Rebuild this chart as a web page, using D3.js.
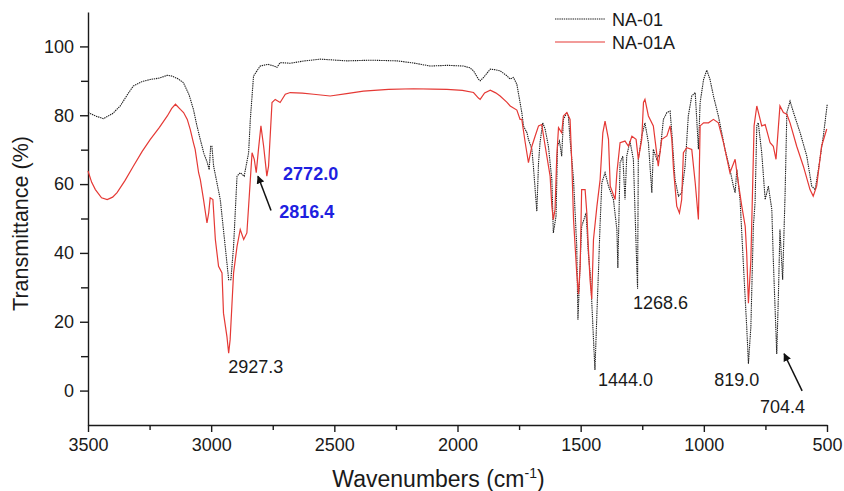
<!DOCTYPE html>
<html>
<head>
<meta charset="utf-8">
<script src="https://cdn.jsdelivr.net/npm/d3@7"></script>
<style>
    body { margin: 0; background: #fff; }
    #chart { width: 844px; height: 491px; }
    text { font-family: "Liberation Sans", Arial, Helvetica, sans-serif; fill: #1a1a1a; }
    .axis path, .axis line { stroke: #1a1a1a; stroke-width: 1.4; }
    .axis text { font-size: 18px; }
</style>
</head>
<body>
<div id="chart"></div>
<script>

// wavenumber (cm-1), transmittance (%)
const na01 = [
    [3500,80.8],[3470,79.8],[3438,79],[3400,80.5],[3369,82.7],[3340,86],[3316,88.5],[3280,89.8],[3247,90.4],
    [3210,90.8],[3178,91.6],[3160,91.4],[3135,90.6],[3113,89.5],[3090,86],[3072,81.7],[3058,77],[3044,72.9],
    [3030,69],[3016,66.3],[3008,64.2],[3002,71],[2997,71],[2990,65.2],[2983,62.7],[2963,55.5],[2943,41.9],
    [2929,32.2],[2920,32.2],[2909,41.9],[2895,62.3],[2882,63.3],[2866,62.3],[2848,69.1],[2841,78.8],[2828,91.4],
    [2801,94.3],[2770,94.8],[2745,94.3],[2733,93.9],[2720,95.3],[2680,95.1],[2620,95.8],[2557,96.3],[2449,95.8],
    [2350,96],[2246,95.8],[2180,95.2],[2111,94.3],[2040,94.5],[1976,94.3],[1950,93.8],[1935,92.9],[1915,90.5],
    [1908,90],[1895,90.9],[1867,93.4],[1845,93.2],[1827,92.9],[1800,91.5],[1786,90.5],[1773,91],[1759,89],
    [1746,83.7],[1739,80.8],[1732,76.9],[1718,74.9],[1712,73],[1698,70.1],[1692,65.2],[1678,52.1],[1671,66.2],
    [1665,72],[1654,77.8],[1644,75.9],[1631,71],[1617,61.3],[1611,45.8],[1600,50.7],[1594,71],[1586,72.5],
    [1577,68.1],[1570,78.8],[1556,80.8],[1550,79.8],[1543,73],[1529,61.3],[1516,41.9],[1511,20.6],[1502,37.1],
    [1496,47.7],[1478,51.6],[1469,40],[1459,32.2],[1448,14.8],[1442,6],[1434,22.5],[1428,34.2],[1421,48.7],
    [1414,60.4],[1401,63.3],[1387,59.4],[1367,55.5],[1353,46.8],[1349,35.6],[1340,66.2],[1329,68.1],[1320,55.5],
    [1313,68.1],[1300,72.5],[1286,67.2],[1274,40],[1269,29.6],[1266,67.2],[1252,74],[1239,77.8],[1225,72],
    [1211,57.5],[1205,70.1],[1191,67.2],[1178,69.1],[1164,78.8],[1150,80.8],[1137,81.2],[1130,74.9],[1117,61.3],
    [1103,56.5],[1090,57.5],[1076,65.2],[1063,79.8],[1049,85.6],[1035,86.6],[1022,70.1],[1015,83.7],[1001,90.4],
    [988,93.1],[975,90.4],[961,85.6],[941,79.8],[914,70.1],[894,64.2],[880,59.4],[873,57.5],[866,64.2],
    [853,55.5],[839,36.1],[826,18.6],[819,7.8],[809,18.6],[799,47.7],[792,54.6],[785,76.9],[779,77.8],
    [765,69.1],[751,55.5],[738,59.4],[724,52.6],[718,38],[704,10.6],[697,28.4],[691,46.8],[680,32.2],
    [670,57.5],[663,80.8],[650,84.1],[636,80.8],[609,74.9],[582,68.1],[562,59.4],[548,58.4],[535,64.2],
    [515,73.9],[499,83.2]
];

const na01a = [
    [3500,63.8],[3485,60.5],[3470,58.4],[3445,56],[3422,55.5],[3400,56.2],[3382,57.5],[3350,61],[3316,65.2],
    [3280,69.5],[3247,73],[3210,76.5],[3178,79.8],[3160,82],[3145,83.2],[3125,81.7],[3112,80.8],[3097,78.8],
    [3085,75.9],[3072,72],[3065,70.1],[3051,63.3],[3044,61.3],[3031,55.5],[3017,48.7],[3010,51.6],[3004,56],
    [2993,55.5],[2983,43.9],[2970,36.1],[2956,34.2],[2950,22.5],[2936,15.7],[2929,10.9],[2923,14.8],[2916,24.5],
    [2909,34.2],[2895,41.9],[2882,46.8],[2868,43.9],[2855,45.8],[2841,61.3],[2834,69.1],[2825,67.2],[2817,63.3],
    [2808,70.1],[2798,76.9],[2787,71],[2774,62.3],[2767,65.2],[2753,83.7],[2740,84.6],[2720,83.7],[2699,86.1],
    [2679,86.6],[2630,86.4],[2584,86.1],[2517,85.6],[2450,86.3],[2382,87],[2280,87.5],[2179,87.7],[2100,87.6],
    [2043,87.5],[1980,87.2],[1935,86.6],[1915,85],[1908,84.6],[1890,86.5],[1867,87.3],[1845,86.5],[1827,85.6],
    [1800,83.8],[1786,82.7],[1759,81.5],[1746,78.8],[1739,78.8],[1725,72],[1712,66.2],[1698,71],[1685,73.9],
    [1671,76.9],[1658,77.3],[1644,71],[1624,62.3],[1617,53.6],[1611,49.7],[1604,52.6],[1597,68.1],[1590,76.4],
    [1577,74.9],[1570,79.8],[1556,80.8],[1543,78.8],[1536,66.2],[1529,49.7],[1516,34.2],[1509,28],[1502,36.1],
    [1496,58.4],[1482,58.4],[1475,51.6],[1469,41.9],[1462,32.2],[1455,26.6],[1448,43.9],[1434,53.6],[1421,61.3],
    [1410,74.9],[1401,78.3],[1387,73],[1380,59.4],[1360,55.5],[1353,63.3],[1340,72],[1320,72.5],[1306,71],
    [1292,73.9],[1275,73],[1266,67.2],[1252,73],[1245,83.7],[1239,84.6],[1225,79.8],[1205,76.9],[1185,65.2],
    [1171,73],[1150,74],[1137,76.9],[1130,73],[1123,64.2],[1110,53.6],[1099,51.6],[1090,55.5],[1083,69.1],
    [1069,70.6],[1049,70.1],[1035,60.4],[1022,49.7],[1015,76.9],[1001,77.8],[981,77.8],[961,78.8],[941,77.8],
    [920,72],[894,63.3],[873,67.2],[860,60.4],[846,53.6],[832,47.7],[826,40],[819,25.4],[809,38],
    [796,76.9],[785,82.7],[765,76.9],[751,77.3],[731,72],[718,71],[707,67.2],[697,76.9],[691,82.7],
    [677,80.8],[663,80.3],[650,77.8],[623,71],[596,65.2],[569,58.4],[556,56.5],[542,59.4],[522,71],
    [501,76]
];

const seriesNames = ["NA-01", "NA-01A"];
const xTicks = [3500, 3000, 2500, 2000, 1500, 1000, 500];
const xMinorTicks = [3250, 2750, 2250, 1750, 1250, 750];
const yTicks = [0, 20, 40, 60, 80, 100];
const yMinorTicks = [10, 30, 50, 70, 90];

// peak labels: text, anchor wavenumber, anchor transmittance, blue?
const peakLabels = [
    ["2927.3", 2931, 5.0, false],
    ["2772.0", 2708, 61.3, true],
    ["2816.4", 2724, 50.2, true],
    ["1268.6", 1288, 23.7, false],
    ["1444.0", 1430, 1.2, false],
    ["819.0", 958, 1.2, false],
    ["704.4", 772, -6.4, false]
];
// arrows: [from wn, from T, to wn, to T]
const arrows = [
    [2757, 52.3, 2810, 62.3],
    [601, -0.1, 674, 10.7]
];

class SpectrumVis {

    constructor(parentElement) {
        this.parentElement = parentElement;
        this.initVis();
    }

    initVis() {
        let vis = this;

        vis.margin = {top: 12, right: 17, bottom: 66, left: 88};
        vis.width = 844 - vis.margin.left - vis.margin.right;
        vis.height = 491 - vis.margin.top - vis.margin.bottom;

        vis.svg = d3.select("#" + vis.parentElement).append("svg")
            .attr("width", 844)
            .attr("height", 491)
            .append("g")
            .attr("transform", "translate(" + vis.margin.left + "," + vis.margin.top + ")");

        vis.x = d3.scaleLinear().domain([3500, 500]).range([0, vis.width]);
        vis.y = d3.scaleLinear().domain([-10, 110]).range([vis.height, 0]);

        // axes
        vis.svg.append("g")
            .attr("class", "axis")
            .attr("transform", "translate(0," + vis.height + ")")
            .call(d3.axisBottom(vis.x).tickValues(xTicks).tickSize(7).tickSizeOuter(0).tickPadding(6).tickFormat(d3.format("d")));
        vis.svg.append("g")
            .attr("class", "axis")
            .attr("transform", "translate(0," + vis.height + ")")
            .call(d3.axisBottom(vis.x).tickValues(xMinorTicks).tickSize(5).tickFormat(""))
            .select(".domain").remove();

        vis.svg.append("g")
            .attr("class", "axis")
            .call(d3.axisLeft(vis.y).tickValues(yTicks).tickSize(8).tickSizeOuter(0).tickPadding(6));
        vis.svg.append("g")
            .attr("class", "axis")
            .call(d3.axisLeft(vis.y).tickValues(yMinorTicks).tickSize(7).tickFormat(""))
            .select(".domain").remove();

        // axis titles
        let xt = vis.svg.append("text")
            .attr("x", vis.width / 2 - 19)
            .attr("y", vis.height + 62)
            .attr("text-anchor", "middle")
            .style("font-size", "23px")
            .text("Wavenumbers (cm");
        xt.append("tspan").attr("dy", -9).style("font-size", "14px").text("-1");
        xt.append("tspan").attr("dy", 9).text(")");

        vis.svg.append("text")
            .attr("transform", "translate(" + (-60) + "," + (vis.y(50) + 5) + ")rotate(-90)")
            .attr("text-anchor", "middle")
            .style("font-size", "21.5px")
            .text("Transmittance (%)");

        // spectra
        vis.line = d3.line()
            .x(d => vis.x(d[0]))
            .y(d => vis.y(d[1]));

        vis.svg.append("path")
            .datum(na01)
            .attr("d", vis.line)
            .attr("fill", "none")
            .attr("stroke", "#1e1e1e")
            .attr("stroke-width", 1.1)
            .attr("stroke-dasharray", "1.4,0.8");

        vis.svg.append("path")
            .datum(na01a)
            .attr("d", vis.line)
            .attr("fill", "none")
            .attr("stroke", "#e53935")
            .attr("stroke-width", 1.2);

        // legend
        let legend = vis.svg.append("g").attr("transform", "translate(467,7)");
        seriesNames.forEach((name, i) => {
            legend.append("line")
                .attr("x1", 0).attr("x2", 50)
                .attr("y1", i * 23).attr("y2", i * 23)
                .attr("stroke", i === 0 ? "#1e1e1e" : "#e53935")
                .attr("stroke-width", 1.1)
                .attr("stroke-dasharray", i === 0 ? "1.4,0.8" : null);
            legend.append("text")
                .attr("x", 57)
                .attr("y", i * 23 + 6.5)
                .style("font-size", "18px")
                .text(name);
        });

        // peak labels
        vis.svg.selectAll(".peakLabel")
            .data(peakLabels)
            .enter()
            .append("text")
            .attr("class", "peakLabel")
            .attr("x", d => vis.x(d[1]))
            .attr("y", d => vis.y(d[2]))
            .style("font-size", "18px")
            .style("font-weight", d => d[3] ? "bold" : "normal")
            .style("fill", d => d[3] ? "#1f1fe0" : "#1a1a1a")
            .text(d => d[0]);

        // arrows
        vis.svg.append("defs").append("marker")
            .attr("id", "arrowHead")
            .attr("viewBox", "0 0 10 10")
            .attr("refX", 9).attr("refY", 5)
            .attr("markerWidth", 8).attr("markerHeight", 8)
            .attr("markerUnits", "userSpaceOnUse")
            .attr("orient", "auto")
            .append("path")
            .attr("d", "M0,0L10,5L0,10z")
            .attr("fill", "#111");

        vis.svg.selectAll(".arrow")
            .data(arrows)
            .enter()
            .append("line")
            .attr("class", "arrow")
            .attr("x1", d => vis.x(d[0]))
            .attr("y1", d => vis.y(d[1]))
            .attr("x2", d => vis.x(d[2]))
            .attr("y2", d => vis.y(d[3]))
            .attr("stroke", "#111")
            .attr("stroke-width", 1.5)
            .attr("marker-end", "url(#arrowHead)");
    }
}

new SpectrumVis("chart");
</script>
</body>
</html>
